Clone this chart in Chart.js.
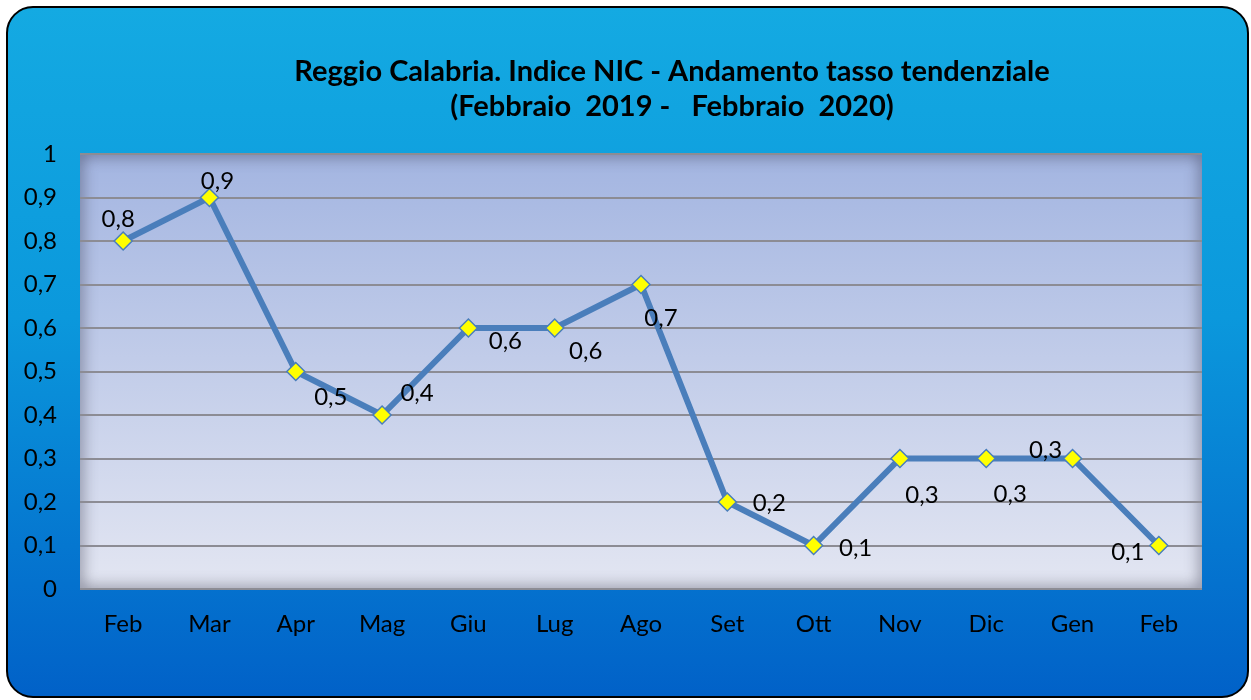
<!DOCTYPE html>
<html lang="it">
<head>
<meta charset="UTF-8">
<title>Reggio Calabria - Indice NIC</title>
<script src="https://cdn.jsdelivr.net/npm/chart.js"></script>
<style>
    html, body { margin: 0; padding: 0; background: #ffffff; }
    #wrap { width: 1251px; height: 700px; position: relative; }
</style>
</head>
<body>
<div id="wrap"><canvas id="chartNic"></canvas></div>
<script>
    // dati
    const mesi = ['Feb', 'Mar', 'Apr', 'Mag', 'Giu', 'Lug', 'Ago', 'Set', 'Ott', 'Nov', 'Dic', 'Gen', 'Feb'];
    const tassoTendenziale = [0.8, 0.9, 0.5, 0.4, 0.6, 0.6, 0.7, 0.2, 0.1, 0.3, 0.3, 0.3, 0.1];
    const titolo = ['Reggio Calabria. Indice NIC - Andamento tasso tendenziale', '(Febbraio  2019 -   Febbraio  2020)'];

    // posizione etichette rispetto al punto (dx, dy in px)
    const posEtichette = [[-5, -22], [8, -16], [35, 26], [35, -22], [37, 13], [31, 23], [20, 34],
                          [42, 1], [42, 3], [22, 37], [24, 36], [-27, -8], [-31, 7]];

    const fmt = v => String(Math.round(v * 10) / 10).replace('.', ',');
    const FONT = 'Lato, "Open Sans", sans-serif';

    const sfondo = {
        id: 'sfondo',
        beforeDraw(chart) {
            const ctx = chart.ctx;
            ctx.save();
            // riquadro esterno arrotondato
            const g = ctx.createLinearGradient(0, 6, 0, 698);
            g.addColorStop(0, '#14aae2');
            g.addColorStop(0.45, '#0b98dc');
            g.addColorStop(1, '#0161c8');
            ctx.beginPath();
            ctx.roundRect(7, 7, 1241, 690, 26);
            ctx.fillStyle = g;
            ctx.fill();
            ctx.lineWidth = 2;
            ctx.strokeStyle = '#000000';
            ctx.stroke();

            // titolo
            ctx.fillStyle = '#000000';
            ctx.font = 'bold 29px ' + FONT;
            ctx.textAlign = 'center';
            ctx.textBaseline = 'middle';
            ctx.fillText(titolo[0], 672, 72);
            ctx.fillText(titolo[1], 672, 107);

            // area del grafico
            const a = chart.chartArea;
            const pg = ctx.createLinearGradient(0, a.top, 0, a.bottom);
            pg.addColorStop(0, '#a3b5e1');
            pg.addColorStop(1, '#e3e6f2');
            ctx.fillStyle = pg;
            ctx.fillRect(a.left, a.top, a.right - a.left, a.bottom - a.top);

            // ombra interna
            ctx.beginPath();
            ctx.rect(a.left, a.top, a.right - a.left, a.bottom - a.top);
            ctx.clip();
            ctx.shadowColor = 'rgba(40,40,60,0.8)';
            ctx.shadowBlur = 16;
            ctx.lineWidth = 8;
            ctx.strokeStyle = 'rgba(90,90,110,0.9)';
            ctx.strokeRect(a.left - 4, a.top - 4, a.right - a.left + 8, a.bottom - a.top + 8);
            ctx.restore();
        }
    };

    const etichette = {
        id: 'etichette',
        afterDatasetsDraw(chart) {
            const ctx = chart.ctx;
            const meta = chart.getDatasetMeta(0);
            ctx.save();
            ctx.font = '24px ' + FONT;
            ctx.fillStyle = '#000000';
            ctx.textAlign = 'center';
            ctx.textBaseline = 'middle';
            meta.data.forEach((pt, i) => {
                const o = posEtichette[i];
                ctx.fillText(fmt(tassoTendenziale[i]), pt.x + o[0], pt.y + o[1]);
            });
            ctx.restore();
        }
    };

    new Chart(document.getElementById('chartNic'), {
        type: 'line',
        data: {
            labels: mesi,
            datasets: [{
                data: tassoTendenziale,
                borderColor: '#4a7ebb',
                borderWidth: 6,
                pointStyle: 'rectRot',
                pointRadius: 9,
                pointBackgroundColor: '#ffff00',
                pointBorderColor: '#4a7ebb',
                pointBorderWidth: 1.5,
                tension: 0
            }]
        },
        options: {
            responsive: true,
            maintainAspectRatio: false,
            animation: false,
            layout: { padding: { top: 154, right: 49, bottom: 51, left: 0 } },
            plugins: {
                legend: { display: false },
                tooltip: { enabled: false }
            },
            scales: {
                x: {
                    offset: true,
                    afterFit: s => { s.height = 60; },
                    grid: { display: false, drawTicks: false },
                    border: { display: false },
                    ticks: { color: '#000000', padding: 21, font: { family: FONT, size: 24 }, maxRotation: 0 }
                },
                y: {
                    min: 0,
                    max: 1,
                    afterFit: s => { s.width = 80; },
                    grid: { color: '#8c8c94', lineWidth: 2, drawTicks: false },
                    border: { display: false },
                    ticks: {
                        stepSize: 0.1,
                        padding: 23,
                        color: '#000000',
                        font: { family: FONT, size: 24 },
                        callback: v => fmt(v)
                    }
                }
            }
        },
        plugins: [sfondo, etichette]
    });
</script>
</body>
</html>
